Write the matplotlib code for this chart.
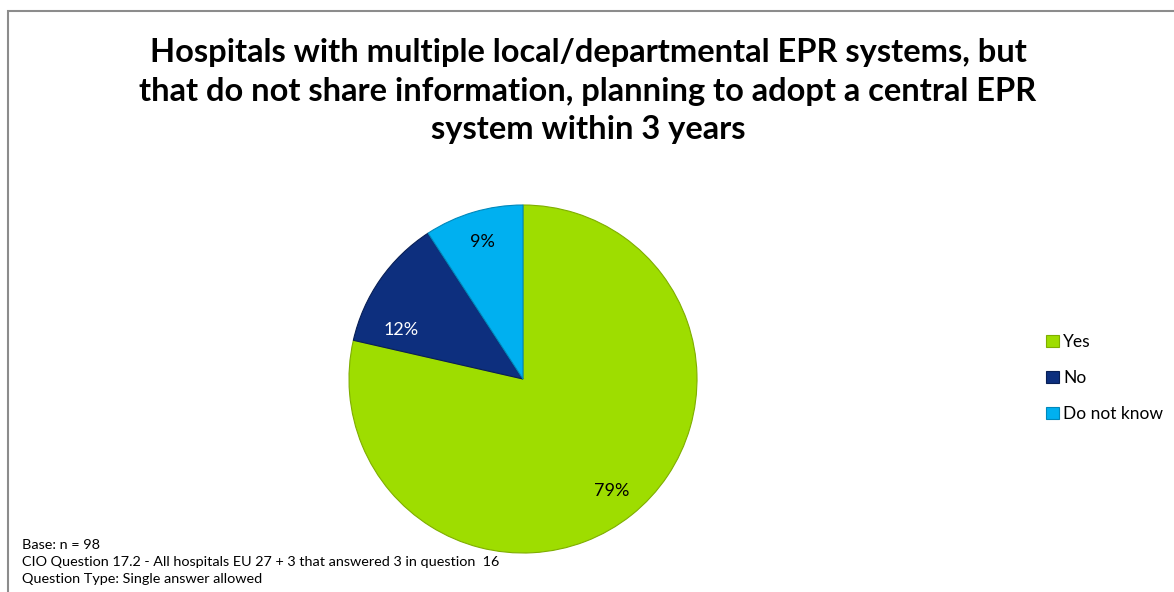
import matplotlib
matplotlib.use("Agg")
import matplotlib.pyplot as plt
from matplotlib.patches import Rectangle
import numpy as np

plt.rcParams['font.family'] = ['Lato', 'DejaVu Sans']

title = ("Hospitals with multiple local/departmental EPR systems, but\n"
         "that do not share information, planning to adopt a central EPR\n"
         "system within 3 years")
categories = ["Yes", "No", "Do not know"]
counts = [77, 12, 9]   # n = 98
colors = ["#9EDD00", "#0D2F7E", "#00B0F0"]
label_colors = ["black", "white", "black"]
footer = ["Base: n = 98",
          "CIO Question 17.2 - All hospitals EU 27 + 3 that answered 3 in question  16",
          "Question Type: Single answer allowed"]

W, H = 1174, 592
fig = plt.figure(figsize=(W / 100, H / 100), dpi=100)

# grey frame (only top/left visible in the crop)
fig.patches.append(Rectangle((8 / W, -0.1), 1.2, (H - 11) / H + 0.1,
                             transform=fig.transFigure, fill=False,
                             edgecolor="#8c8c8c", linewidth=1.5))

fig.text(588 / W, 1 - 91 / H, title, ha="center", va="center",
         fontsize=23.5, fontweight="bold", linespacing=1.38)

cx, cy, r = 523, 379, 174
ax = fig.add_axes([(cx - r) / W, (H - cy - r) / H, 2 * r / W, 2 * r / H])
wedges, texts, autotexts = ax.pie(
    counts, colors=colors, startangle=90, counterclock=False,
    autopct=lambda p: f"{p:.0f}%", pctdistance=0.82,
    wedgeprops=dict(linewidth=0.8),
    textprops=dict(fontsize=13))
for w, c in zip(wedges, ["#7fae00", "#081f55", "#0088bb"]):
    w.set_edgecolor(c)
for t, c in zip(autotexts, label_colors):
    t.set_color(c)
# the "No" label sits a bit lower in the original
x, y = autotexts[1].get_position()
autotexts[1].set_position((x - 0.03, y - 0.19))
ax.set_xlim(-1.0, 1.0)
ax.set_ylim(-1.0, 1.0)
ax.axis("off")

leg = fig.legend(wedges, categories, loc="center left",
                 bbox_to_anchor=(1030 / W, 1 - 378 / H), frameon=False,
                 fontsize=12.5, handlelength=0.75, handleheight=0.75,
                 handletextpad=0.25, labelspacing=1.15)

for i, line in enumerate(footer):
    fig.text(22 / W, 1 - (545 + 17 * i) / H, line, ha="left", va="center",
             fontsize=10.4)

fig.savefig("out.png", dpi=100)
